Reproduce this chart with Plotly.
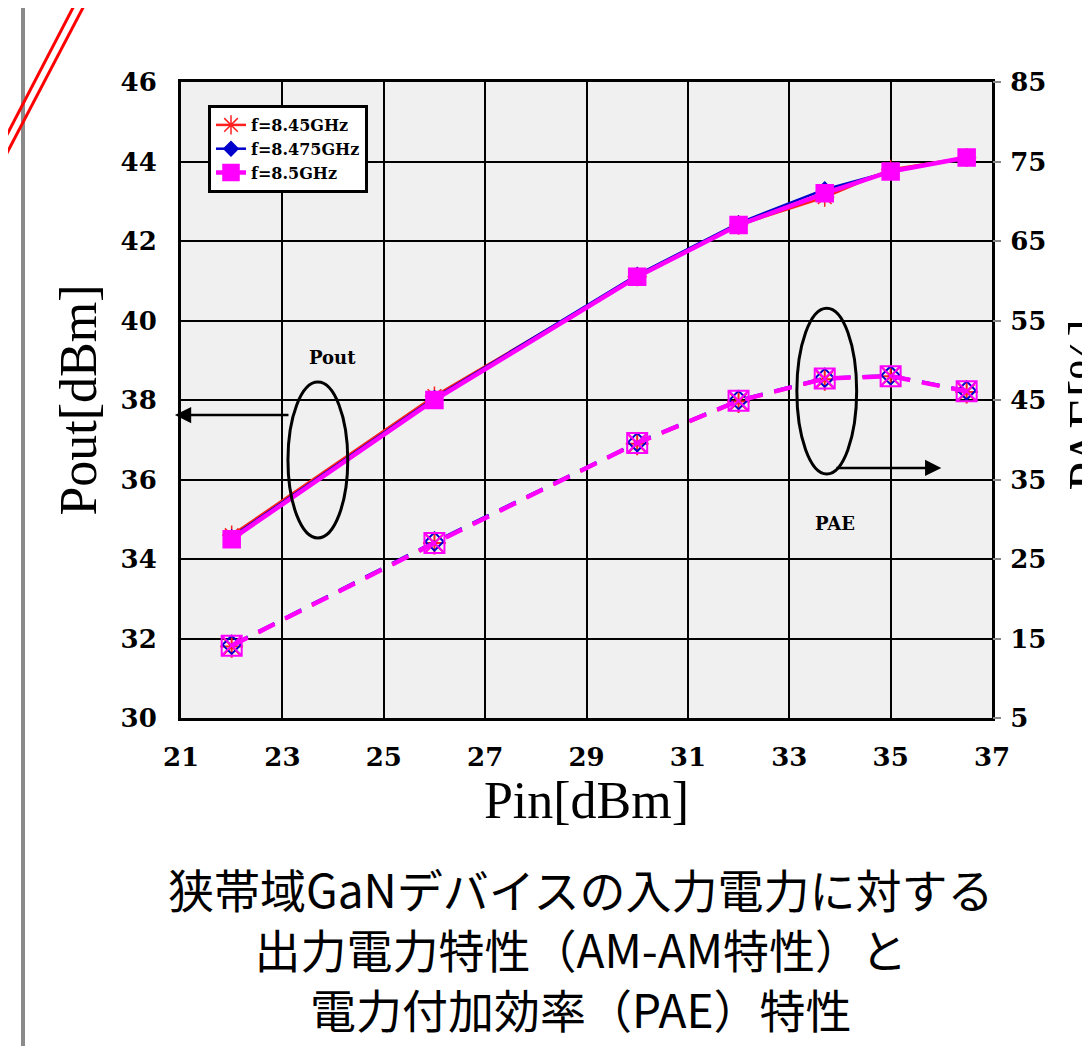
import plotly.graph_objects as go

pin = [22, 26, 30, 32, 33.7, 35, 36.5]
names = ["f=8.45GHz", "f=8.475GHz", "f=8.5GHz"]
pout = {
    "f=8.45GHz": [34.6, 38.1, 41.1, 42.4, 43.1, 43.8, 44.1],
    "f=8.475GHz": [34.55, 38.05, 41.15, 42.45, 43.3, 43.75, 44.1],
    "f=8.5GHz": [34.5, 38.0, 41.1, 42.4, 43.2, 43.75, 44.1],
}
pae = {
    "f=8.45GHz": [14.0, 27.0, 39.5, 44.8, 47.6, 48.0, 46.0],
    "f=8.475GHz": [14.2, 27.2, 39.7, 45.0, 47.8, 48.1, 46.2],
    "f=8.5GHz": [14.1, 27.0, 39.6, 44.9, 47.7, 48.0, 46.1],
}
colors = {"f=8.45GHz": "#ff2020", "f=8.475GHz": "#0000cc", "f=8.5GHz": "#ff00ff"}
sym_line = {"f=8.45GHz": "asterisk-open", "f=8.475GHz": "diamond", "f=8.5GHz": "square"}
sym_pae = {"f=8.45GHz": "asterisk-open", "f=8.475GHz": "diamond-open", "f=8.5GHz": "square-x-open"}
sizes = {"f=8.45GHz": 16, "f=8.475GHz": 11, "f=8.5GHz": 17}
widths = {"f=8.45GHz": 2.5, "f=8.475GHz": 2.5, "f=8.5GHz": 4.5}

x_ticks = [21, 23, 25, 27, 29, 31, 33, 35, 37]
y_ticks = [30, 32, 34, 36, 38, 40, 42, 44, 46]
y2_ticks = [5, 15, 25, 35, 45, 55, 65, 75, 85]

caption = ["狭帯域GaNデバイスの入力電力に対する", "出力電力特性（AM-AM特性）と", "電力付加効率（PAE）特性"]

fig = go.Figure()
for n in names:
    fig.add_trace(go.Scatter(
        x=pin, y=pout[n], name=n, mode="lines+markers",
        line=dict(color=colors[n], width=widths[n]),
        marker=dict(symbol=sym_line[n], size=sizes[n], color=colors[n],
                    line=dict(color=colors[n], width=1.5)),
        cliponaxis=False,
    ))
for n in names:
    fig.add_trace(go.Scatter(
        x=pin, y=pae[n], name=n, mode="lines+markers", yaxis="y2", showlegend=False,
        line=dict(color=colors[n], width=widths[n], dash="18px,12px"),
        marker=dict(symbol=sym_pae[n], size=sizes[n] + 3, color=colors[n],
                    line=dict(color=colors[n], width=2)),
        cliponaxis=False,
    ))

# page geometry (browser body has an 8px margin)
OFF = 8
PW, PH = 1090, 1046
L, R, T, B = 181, 98, 82, 328          # plot-area edges in page pixels
pw, ph = PW - L - R, PH - T - B

def px(xp):
    return (xp - L) / pw

def py(yp):
    return (PH - B - yp) / ph

serif = "DejaVu Serif"
tickfont = dict(family=serif, size=26, color="black")
titlefont = "Liberation Serif"

fig.update_layout(
    width=PW - OFF, height=PH - OFF,
    margin=dict(l=L - OFF, r=R, t=T - OFF, b=B),
    paper_bgcolor="white",
    plot_bgcolor="#f0f0f0",
    showlegend=True,
    legend=dict(x=px(208), y=py(105), xanchor="left", yanchor="top",
                bgcolor="white", bordercolor="black", borderwidth=3,
                font=dict(family=serif, size=16, color="black", weight="bold"),
                tracegroupgap=0),
    xaxis=dict(range=[21, 37], tickvals=x_ticks, ticktext=["<b>%d</b>" % v for v in x_ticks],
               showgrid=True, gridcolor="black", gridwidth=2,
               showline=True, linecolor="black", linewidth=3, mirror=True,
               zeroline=False, ticks="", tickfont=tickfont,
               ticklabelstandoff=14,
               title=dict(text="Pin[dBm]", font=dict(family=titlefont, size=52, color="black"), standoff=9)),
    yaxis=dict(range=[30, 46], tickvals=y_ticks, ticktext=["<b>%d</b>" % v for v in y_ticks],
               showgrid=True, gridcolor="black", gridwidth=2,
               showline=True, linecolor="black", linewidth=3, mirror=True,
               zeroline=False, ticks="", tickfont=tickfont,
               ticklabelstandoff=16,
               title=dict(text="Pout[dBm]", font=dict(family=titlefont, size=52, color="black"), standoff=8)),
    yaxis2=dict(range=[5, 85], tickvals=y2_ticks, ticktext=["<b>%d</b>" % v for v in y2_ticks],
                overlaying="y", side="right", showgrid=False, zeroline=False,
                ticks="outside", ticklen=8, tickcolor="#888", tickwidth=2,
                ticklabelstandoff=4, tickfont=tickfont),
    font=dict(family=serif),
)

# Ellipses
fig.add_shape(type="circle", xref="x", yref="y", x0=23.11, x1=24.29, y0=34.53, y1=38.45,
              line=dict(color="black", width=3))
fig.add_shape(type="circle", xref="x", yref="y", x0=33.15, x1=34.33, y0=36.14, y1=40.31,
              line=dict(color="black", width=3))

# Arrows
fig.add_annotation(x=20.88, y=37.62, ax=23.15, ay=37.62, xref="x", yref="y", axref="x", ayref="y",
                   showarrow=True, arrowhead=2, arrowsize=1.3, arrowwidth=2.5, arrowcolor="black", text="")
fig.add_annotation(x=36.0, y=36.29, ax=33.9, ay=36.29, xref="x", yref="y", axref="x", ayref="y",
                   showarrow=True, arrowhead=2, arrowsize=1.3, arrowwidth=2.5, arrowcolor="black", text="")

fig.add_annotation(x=23.98, y=39.08, xref="x", yref="y", text="<b>Pout</b>", showarrow=False,
                   font=dict(family=serif, size=18, color="black"))
fig.add_annotation(x=33.9, y=34.9, xref="x", yref="y", text="<b>PAE</b>", showarrow=False,
                   font=dict(family=serif, size=18, color="black"))

# Right axis title (cut at page edge, as in the source image)
fig.add_annotation(x=px(1118), y=py(405), xref="paper", yref="paper", text="PAE[%]", textangle=-90,
                   showarrow=False, font=dict(family=titlefont, size=52, color="black"))

# Caption
fig.add_annotation(x=px(580), y=py(853), xref="paper", yref="paper", text="<br>".join(caption),
                   showarrow=False, align="center", yanchor="top",
                   font=dict(family="Noto Sans CJK JP", size=46, color="black"))

# Page decorations
fig.add_shape(type="line", xref="paper", yref="paper", x0=px(23), x1=px(23), y0=py(0), y1=py(PH + 10),
              line=dict(color="#8a8a8a", width=4))
fig.add_shape(type="line", xref="paper", yref="paper", x0=px(-2), x1=px(77), y0=py(152), y1=py(0),
              line=dict(color="red", width=3))
fig.add_shape(type="line", xref="paper", yref="paper", x0=px(-2), x1=px(87), y0=py(170), y1=py(0),
              line=dict(color="red", width=3))

fig.write_html("out.html")
